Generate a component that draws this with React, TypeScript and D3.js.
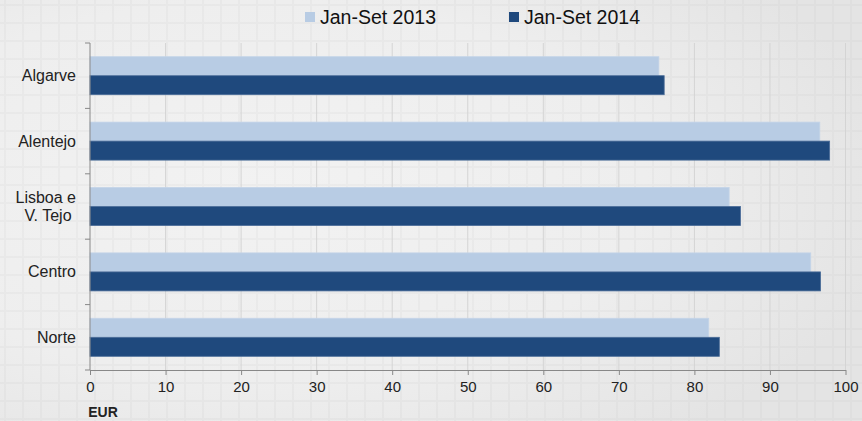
import React, { useEffect, useRef } from 'react';
import * as d3 from 'd3';

const regions = ['Algarve', 'Alentejo', 'Lisboa e\nV. Tejo\u00a0', 'Centro', 'Norte'];
const seriesNames = ['Jan-Set 2013', 'Jan-Set 2014'];
const values2013 = [75.3, 96.6, 84.6, 95.4, 81.9];
const values2014 = [76.0, 97.9, 86.1, 96.7, 83.3];
const xTicks = [0, 10, 20, 30, 40, 50, 60, 70, 80, 90, 100];
const colors = ['#b8cce4', '#1f497d'];

const W = 862;
const H = 421;
const FONT = 'Liberation Sans, Arial, sans-serif';

function Chart() {
  const ref = useRef<SVGSVGElement>(null);

  useEffect(() => {
    document.body.style.margin = '0';
    document.body.style.overflow = 'hidden';
    const svg = d3.select(ref.current);
    svg.selectAll('*').remove();

    const defs = svg.append('defs');
    const grad = defs.append('radialGradient').attr('id', 'bg')
      .attr('cx', '30%').attr('cy', '45%').attr('r', '75%');
    grad.append('stop').attr('offset', '0%').attr('stop-color', '#f2f2f2');
    grad.append('stop').attr('offset', '60%').attr('stop-color', '#eeeeee');
    grad.append('stop').attr('offset', '100%').attr('stop-color', '#e4e4e4');

    const pat = defs.append('pattern').attr('id', 'grid')
      .attr('width', 18).attr('height', 18)
      .attr('patternUnits', 'userSpaceOnUse')
      .attr('x', 4).attr('y', 4);
    pat.append('path').attr('d', 'M0,1 H18 M1,0 V18')
      .attr('stroke', '#000').attr('stroke-opacity', 0.025).attr('stroke-width', 2);

    svg.append('rect').attr('width', W).attr('height', H).attr('fill', 'url(#bg)');
    svg.append('rect').attr('width', W).attr('height', H).attr('fill', 'url(#grid)');

    const x = d3.scaleLinear().domain([0, 100]).range([90, 845.5]);
    const y = d3.scaleBand().domain(regions).range([43, 370]).padding(0);
    const sub = d3.scaleBand().domain(seriesNames).range([0, y.bandwidth()])
      .paddingInner(0).paddingOuter(0.72);

    // vertical gridlines
    svg.append('g').selectAll('line').data(xTicks.slice(1)).join('line')
      .attr('x1', d => x(d)).attr('x2', d => x(d))
      .attr('y1', 43).attr('y2', 370)
      .attr('stroke', '#d4d4d4').attr('stroke-width', 1);

    const data = [values2013, values2014];
    seriesNames.forEach((s, si) => {
      svg.append('g').selectAll('rect').data(regions).join('rect')
        .attr('x', x(0))
        .attr('y', d => (y(d) as number) + (sub(s) as number))
        .attr('width', (d, i) => x(data[si][i]) - x(0))
        .attr('height', sub.bandwidth())
        .attr('fill', colors[si])
        .attr('stroke', si === 0 ? '#c4d4e8' : '#4a6c98')
        .attr('stroke-width', 0.8);
    });

    // x axis
    const xa = svg.append('g').attr('transform', 'translate(0,370)')
      .call(d3.axisBottom(x).tickValues(xTicks).tickSize(5).tickPadding(6).tickSizeOuter(0));
    xa.select('.domain').attr('stroke', '#888');
    xa.selectAll('.tick line').attr('stroke', '#888');
    xa.selectAll('text').attr('font-family', FONT)
      .attr('font-size', 15).attr('fill', '#222');

    // y axis line and category ticks
    svg.append('line').attr('x1', 90).attr('x2', 90).attr('y1', 43).attr('y2', 370)
      .attr('stroke', '#888');
    const bounds = regions.map(r => y(r) as number).concat([370]);
    svg.append('g').selectAll('line').data(bounds).join('line')
      .attr('x1', 85).attr('x2', 90).attr('y1', d => d).attr('y2', d => d)
      .attr('stroke', '#888');

    // category labels
    regions.forEach(r => {
      const lines = r.split('\n');
      const cy = (y(r) as number) + y.bandwidth() / 2;
      const t = svg.append('text').attr('text-anchor', 'end')
        .attr('font-family', FONT)
        .attr('font-size', 16).attr('fill', '#222');
      lines.forEach((l, i) => {
        t.append('tspan').attr('x', 76)
          .attr('y', cy + 5.5 + (i - (lines.length - 1) / 2) * 18.5)
          .text(l);
      });
    });

    // x title
    svg.append('text').attr('x', 103).attr('y', 417).attr('text-anchor', 'middle')
      .attr('font-family', FONT)
      .attr('font-size', 14).attr('font-weight', 'bold').attr('fill', '#222')
      .text('EUR');

    // legend
    const legX = [305, 509];
    seriesNames.forEach((s, i) => {
      svg.append('rect').attr('x', legX[i]).attr('y', 12).attr('width', 10).attr('height', 10)
        .attr('fill', colors[i]);
      svg.append('text').attr('x', legX[i] + 15).attr('y', 24)
        .attr('font-family', FONT)
        .attr('font-size', 19.5).attr('fill', '#111')
        .text(s);
    });
  }, []);

  return (
    <svg ref={ref} width={W} height={H}
      style={{ display: 'block', position: 'absolute', left: 0, top: 0 }} />
  );
}

export default function App() {
  return <Chart />;
}
